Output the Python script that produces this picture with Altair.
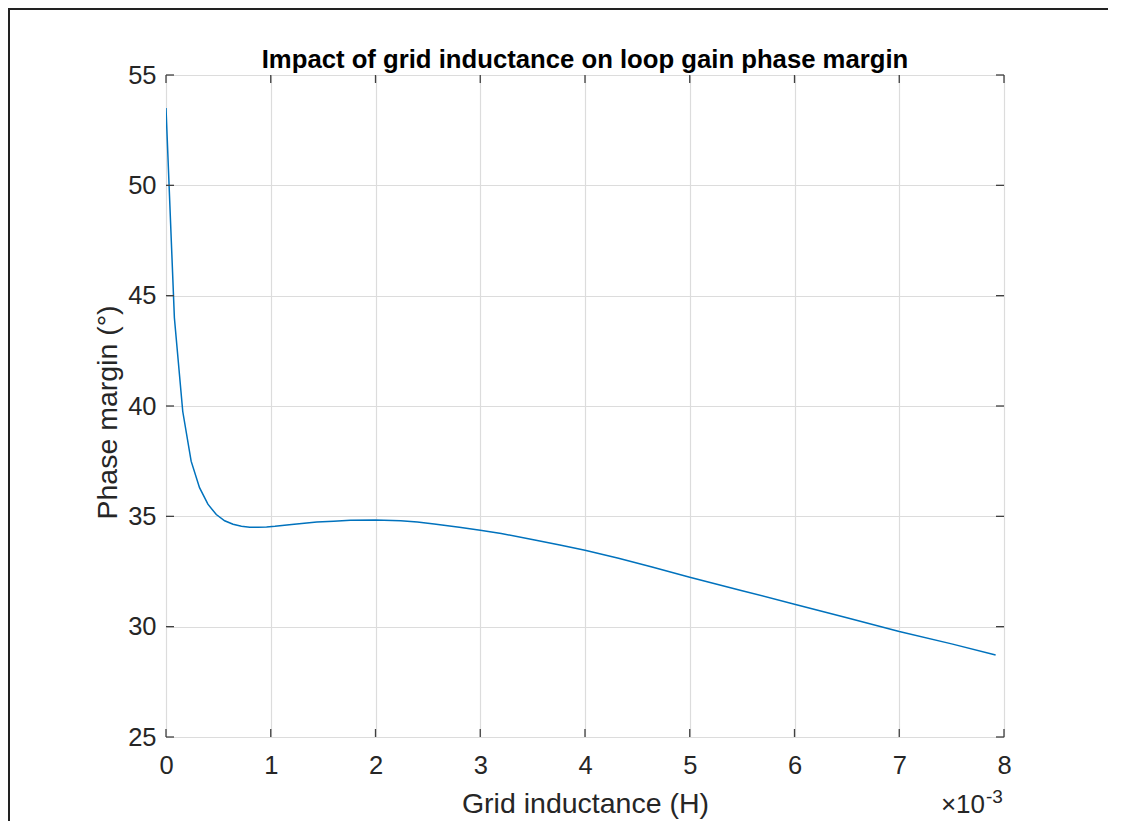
import altair as alt
import pandas as pd

# Grid inductance in units of 1e-3 H, phase margin in degrees
L_mH = [0.00, 0.08, 0.16, 0.24, 0.32, 0.40, 0.48, 0.56, 0.64, 0.72, 0.80, 0.88,
        0.96, 1.04, 1.20, 1.44, 1.60, 1.76, 2.00, 2.24, 2.40, 2.56, 2.80, 3.00,
        3.20, 3.52, 3.76, 4.00, 4.32, 4.64, 5.00, 5.50, 6.00, 6.50, 7.00, 7.50, 7.92]
phase_margin = [53.5, 44.0, 39.75, 37.5, 36.3, 35.55, 35.08, 34.8, 34.64, 34.55, 34.51, 34.5,
                34.52, 34.55, 34.63, 34.74, 34.78, 34.82, 34.83, 34.8, 34.74, 34.65, 34.5, 34.37,
                34.22, 33.93, 33.7, 33.46, 33.1, 32.7, 32.24, 31.63, 31.02, 30.4, 29.78, 29.22, 28.72]
x_ticks = [0, 1, 2, 3, 4, 5, 6, 7, 8]
y_ticks = [25, 30, 35, 40, 45, 50, 55]
title_text = "Impact of grid inductance on loop gain phase margin"

W, H = 838, 662
FONT = "Liberation Sans"
AX = "#404040"

df = pd.DataFrame({"L": L_mH, "PM": phase_margin})
xt = pd.DataFrame({"xt": x_ticks})
yt = pd.DataFrame({"yt": y_ticks})

xscale = alt.Scale(domain=[0, 8], nice=False, zero=False)
yscale = alt.Scale(domain=[25, 55], nice=False, zero=False)

line = alt.Chart(df).mark_line(color="#0072BD", strokeWidth=1.5, clip=True).encode(
    x=alt.X("L:Q", scale=xscale,
            axis=alt.Axis(values=x_ticks, format="d", title="Grid inductance (H)", grid=True,
                          gridColor="#dcdcdc", gridWidth=1.2, ticks=False, tickSize=0,
                          domain=False, labelFont=FONT, labelFontSize=25.5, labelColor="#262626",
                          labelBaseline="alphabetic", labelPadding=36, labelFlush=False,
                          titleFont=FONT, titleFontSize=28.5, titleFontWeight="normal",
                          titleColor="#262626", titleX=419, titleY=75,
                          titleBaseline="alphabetic", titleAlign="center")),
    y=alt.Y("PM:Q", scale=yscale,
            axis=alt.Axis(values=y_ticks, format="d", title="Phase margin (°)", grid=True,
                          gridColor="#dcdcdc", gridWidth=1.2, ticks=False, tickSize=0,
                          domain=False, labelFont=FONT, labelFontSize=25.5, labelColor="#262626",
                          labelPadding=10, labelFlush=False,
                          titleFont=FONT, titleFontSize=28.5, titleFontWeight="normal",
                          titleColor="#262626", titleX=-50, titleY=337, titleAngle=270,
                          titleBaseline="alphabetic", titleAlign="center")),
)

tick_style = dict(color=AX, strokeWidth=1.3)
xt_bottom = alt.Chart(xt).mark_rule(**tick_style).encode(
    x=alt.X("xt:Q", scale=xscale), y=alt.value(H), y2=alt.value(H - 8))
xt_top = alt.Chart(xt).mark_rule(**tick_style).encode(
    x=alt.X("xt:Q", scale=xscale), y=alt.value(0), y2=alt.value(8))
yt_left = alt.Chart(yt).mark_rule(**tick_style).encode(
    y=alt.Y("yt:Q", scale=yscale), x=alt.value(0), x2=alt.value(8))
yt_right = alt.Chart(yt).mark_rule(**tick_style).encode(
    y=alt.Y("yt:Q", scale=yscale), x=alt.value(W), x2=alt.value(W - 8))

title_mark = alt.Chart(pd.DataFrame({"t": [title_text]})).mark_text(
    font=FONT, fontSize=25.7, fontWeight="bold", color="black", align="center",
    baseline="alphabetic").encode(text="t:N", x=alt.value(W / 2), y=alt.value(-7))

exp_base = alt.Chart(pd.DataFrame({"t": ["×10"]})).mark_text(
    font=FONT, fontSize=26, color="#262626", align="right", baseline="alphabetic").encode(
    text="t:N", x=alt.value(819), y=alt.value(738))
exp_pow = alt.Chart(pd.DataFrame({"t": ["-3"]})).mark_text(
    font=FONT, fontSize=19, color="#262626", align="left", baseline="alphabetic").encode(
    text="t:N", x=alt.value(820), y=alt.value(728))

frame_top = alt.Chart(pd.DataFrame({"a": [0]})).mark_rule(color="#222222", strokeWidth=2).encode(
    x=alt.value(-157), x2=alt.value(945), y=alt.value(-66))
frame_left = alt.Chart(pd.DataFrame({"a": [0]})).mark_rule(color="#222222", strokeWidth=2).encode(
    x=alt.value(-157), y=alt.value(-67), y2=alt.value(760))

chart = alt.layer(
    line, xt_bottom, xt_top, yt_left, yt_right, title_mark, exp_base, exp_pow,
    frame_top, frame_left
).properties(
    width=W, height=H,
    autosize=alt.AutoSizeParams(type="none"),
    padding={"left": 158, "top": 67, "right": 104, "bottom": 84},
).configure_view(stroke=AX, strokeWidth=1.3).configure(background="white")

chart.save("out.html", embed_options={"renderer": "svg", "actions": False})
